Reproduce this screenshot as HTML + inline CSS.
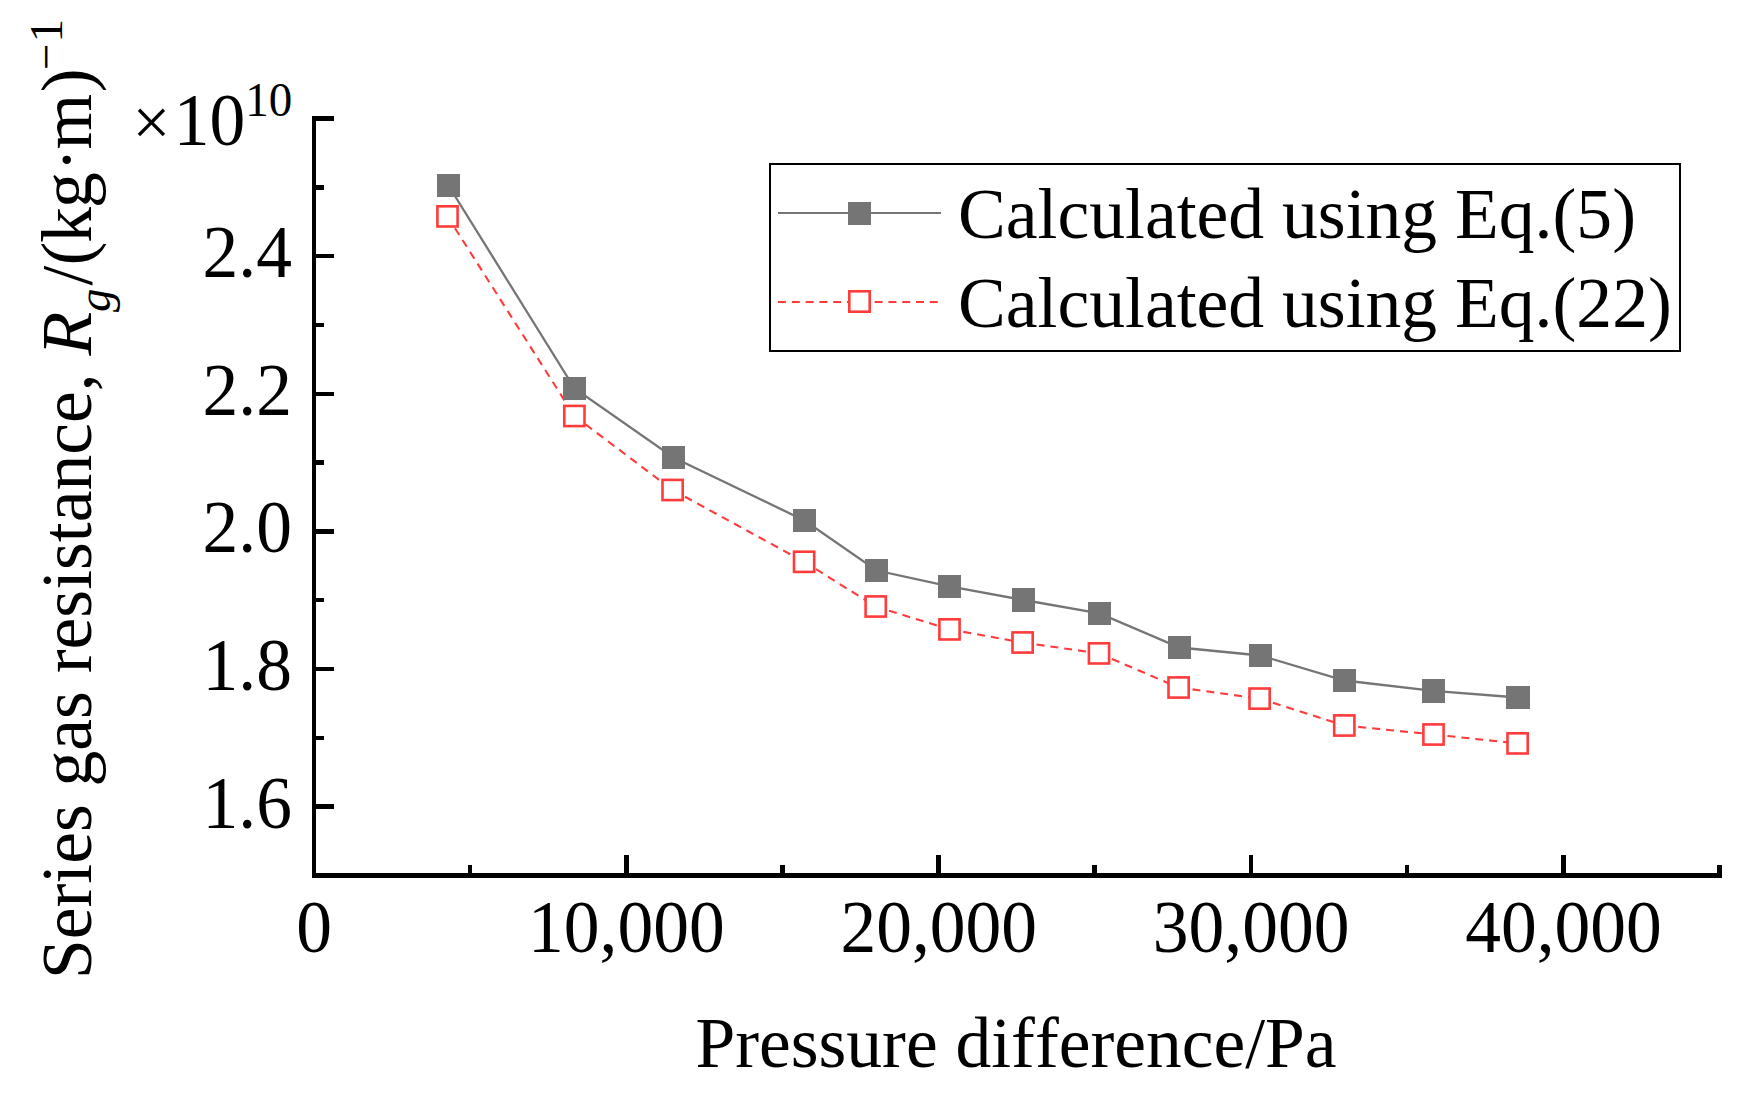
<!DOCTYPE html>
<html lang="en">
<head>
<meta charset="utf-8">
<title>Series gas resistance vs pressure difference</title>
<style>
html,body{margin:0;padding:0;background:#fff;}
body{width:1747px;height:1093px;overflow:hidden;}
svg{display:block;}
text{font-family:"Liberation Serif","Times New Roman",serif;fill:#000;font-variant-ligatures:none;font-kerning:none;}
.t{font-size:71.5px;}
.ax{fill:#000;shape-rendering:crispEdges;}
</style>
</head>
<body>
<svg width="1747" height="1093" viewBox="0 0 1747 1093">
<rect x="0" y="0" width="1747" height="1093" fill="#fff"/>

<g class="ax">
<rect x="312" y="116" width="4" height="762"/>
<rect x="312" y="873" width="1410" height="5"/>
<rect x="312" y="804" width="22" height="5"/>
<rect x="312" y="736" width="12" height="4"/>
<rect x="312" y="667" width="22" height="4"/>
<rect x="312" y="598" width="12" height="4"/>
<rect x="312" y="529" width="22" height="5"/>
<rect x="312" y="460" width="12" height="5"/>
<rect x="312" y="392" width="22" height="4"/>
<rect x="312" y="323" width="12" height="4"/>
<rect x="312" y="254" width="22" height="4"/>
<rect x="312" y="185" width="12" height="5"/>
<rect x="312" y="116" width="22" height="5"/>
<rect x="468" y="865" width="4" height="13"/>
<rect x="624" y="855" width="5" height="23"/>
<rect x="780" y="865" width="5" height="13"/>
<rect x="936" y="855" width="5" height="23"/>
<rect x="1092" y="865" width="5" height="13"/>
<rect x="1249" y="855" width="4" height="23"/>
<rect x="1405" y="865" width="4" height="13"/>
<rect x="1561" y="855" width="5" height="23"/>
<rect x="1717" y="865" width="5" height="13"/>
</g>
<g class="t">
<text transform="translate(292,827.7) scale(1,1.030)" text-anchor="end">1.6</text>
<text transform="translate(292,690.0) scale(1,1.030)" text-anchor="end">1.8</text>
<text transform="translate(292,552.4) scale(1,1.030)" text-anchor="end">2.0</text>
<text transform="translate(292,414.8) scale(1,1.030)" text-anchor="end">2.2</text>
<text transform="translate(292,277.1) scale(1,1.030)" text-anchor="end">2.4</text>
<text transform="translate(314.0,952) scale(1,1.030)" text-anchor="middle">0</text>
<text transform="translate(626.4,952) scale(1,1.030)" text-anchor="middle">10,000</text>
<text transform="translate(938.7,952) scale(1,1.030)" text-anchor="middle">20,000</text>
<text transform="translate(1251.1,952) scale(1,1.030)" text-anchor="middle">30,000</text>
<text transform="translate(1563.5,952) scale(1,1.030)" text-anchor="middle">40,000</text>
<text x="1016" y="1067" text-anchor="middle">Pressure difference/Pa</text>
<text x="132.4" y="145" font-size="67">×</text>
<text transform="translate(173.8,145) scale(1,1.030)">10<tspan font-size="47" dy="-28">10</tspan></text>
<text transform="translate(91,499) rotate(-90)" text-anchor="middle">Series gas resistance, <tspan font-style="italic">R</tspan><tspan font-style="italic" font-size="47" dy="19">g</tspan><tspan dy="-19" dx="3 0 -1 -1 0.5 -1.5 1.5">/(kg·m)</tspan><tspan font-size="47" dy="-29" dx="-1.5 1">−1</tspan></text>
</g>
<g stroke="#ff3b3b" stroke-width="2.1" stroke-dasharray="8 6" fill="none">
<line x1="447.5" y1="216.4" x2="574.4" y2="416.0"/>
<line x1="574.4" y1="416.0" x2="672.6" y2="490.0"/>
<line x1="672.6" y1="490.0" x2="804.1" y2="561.8"/>
<line x1="804.1" y1="561.8" x2="875.7" y2="606.5"/>
<line x1="875.7" y1="606.5" x2="949.5" y2="629.4"/>
<line x1="949.5" y1="629.4" x2="1022.6" y2="642.5"/>
<line x1="1022.6" y1="642.5" x2="1099.0" y2="653.4"/>
<line x1="1099.0" y1="653.4" x2="1178.6" y2="687.5"/>
<line x1="1178.6" y1="687.5" x2="1259.6" y2="698.6"/>
<line x1="1259.6" y1="698.6" x2="1344.3" y2="725.5"/>
<line x1="1344.3" y1="725.5" x2="1433.5" y2="734.5"/>
<line x1="1433.5" y1="734.5" x2="1517.6" y2="743.4"/>
</g>
<polyline points="448.4,185.5 574.6,388.5 673.5,457.5 804.5,520.5 876.6,570.5 949.5,586.4 1023.5,600.0 1099.5,613.4 1179.5,647.5 1260.5,655.5 1344.5,680.5 1433.5,690.9 1518.0,697.5" fill="none" stroke="#757575" stroke-width="2.3"/>
<rect x="437" y="174" width="23" height="23" fill="#757575"/>
<rect x="563" y="377" width="23" height="23" fill="#757575"/>
<rect x="662" y="446" width="23" height="23" fill="#757575"/>
<rect x="793" y="509" width="23" height="23" fill="#757575"/>
<rect x="865" y="559" width="23" height="23" fill="#757575"/>
<rect x="938" y="575" width="23" height="23" fill="#757575"/>
<rect x="1012" y="588" width="23" height="24" fill="#757575"/>
<rect x="1088" y="602" width="23" height="23" fill="#757575"/>
<rect x="1168" y="636" width="23" height="23" fill="#757575"/>
<rect x="1249" y="644" width="23" height="23" fill="#757575"/>
<rect x="1333" y="669" width="23" height="23" fill="#757575"/>
<rect x="1422" y="679" width="23" height="24" fill="#757575"/>
<rect x="1506" y="686" width="24" height="23" fill="#757575"/>
<rect x="437.4" y="206.3" width="20.2" height="20.2" fill="#fff" stroke="#ff3b3b" stroke-width="2.6"/>
<rect x="564.3" y="405.9" width="20.2" height="20.2" fill="#fff" stroke="#ff3b3b" stroke-width="2.6"/>
<rect x="662.5" y="479.9" width="20.2" height="20.2" fill="#fff" stroke="#ff3b3b" stroke-width="2.6"/>
<rect x="794.0" y="551.7" width="20.2" height="20.2" fill="#fff" stroke="#ff3b3b" stroke-width="2.6"/>
<rect x="865.6" y="596.4" width="20.2" height="20.2" fill="#fff" stroke="#ff3b3b" stroke-width="2.6"/>
<rect x="939.4" y="619.3" width="20.2" height="20.2" fill="#fff" stroke="#ff3b3b" stroke-width="2.6"/>
<rect x="1012.5" y="632.4" width="20.2" height="20.2" fill="#fff" stroke="#ff3b3b" stroke-width="2.6"/>
<rect x="1088.9" y="643.3" width="20.2" height="20.2" fill="#fff" stroke="#ff3b3b" stroke-width="2.6"/>
<rect x="1168.5" y="677.4" width="20.2" height="20.2" fill="#fff" stroke="#ff3b3b" stroke-width="2.6"/>
<rect x="1249.5" y="688.5" width="20.2" height="20.2" fill="#fff" stroke="#ff3b3b" stroke-width="2.6"/>
<rect x="1334.2" y="715.4" width="20.2" height="20.2" fill="#fff" stroke="#ff3b3b" stroke-width="2.6"/>
<rect x="1423.4" y="724.4" width="20.2" height="20.2" fill="#fff" stroke="#ff3b3b" stroke-width="2.6"/>
<rect x="1507.5" y="733.3" width="20.2" height="20.2" fill="#fff" stroke="#ff3b3b" stroke-width="2.6"/>
<rect x="770" y="164" width="910" height="187" fill="none" stroke="#000" stroke-width="2" shape-rendering="crispEdges"/>
<line x1="778" y1="213" x2="941" y2="213" stroke="#757575" stroke-width="2"/>
<rect x="848" y="202" width="23" height="23" fill="#757575"/>
<line x1="778" y1="302" x2="938" y2="302" stroke="#ff3b3b" stroke-width="2" stroke-dasharray="8 5.8"/>
<rect x="849.3" y="291.3" width="20.4" height="20.4" fill="#fff" stroke="#ff3b3b" stroke-width="2.6"/>
<g class="t">
<text x="958" y="238" font-size="71.6">Calculated using Eq.(5)</text>
<text x="958" y="327" font-size="71.6">Calculated using Eq.(22)</text>
</g>
</svg>
</body>
</html>
